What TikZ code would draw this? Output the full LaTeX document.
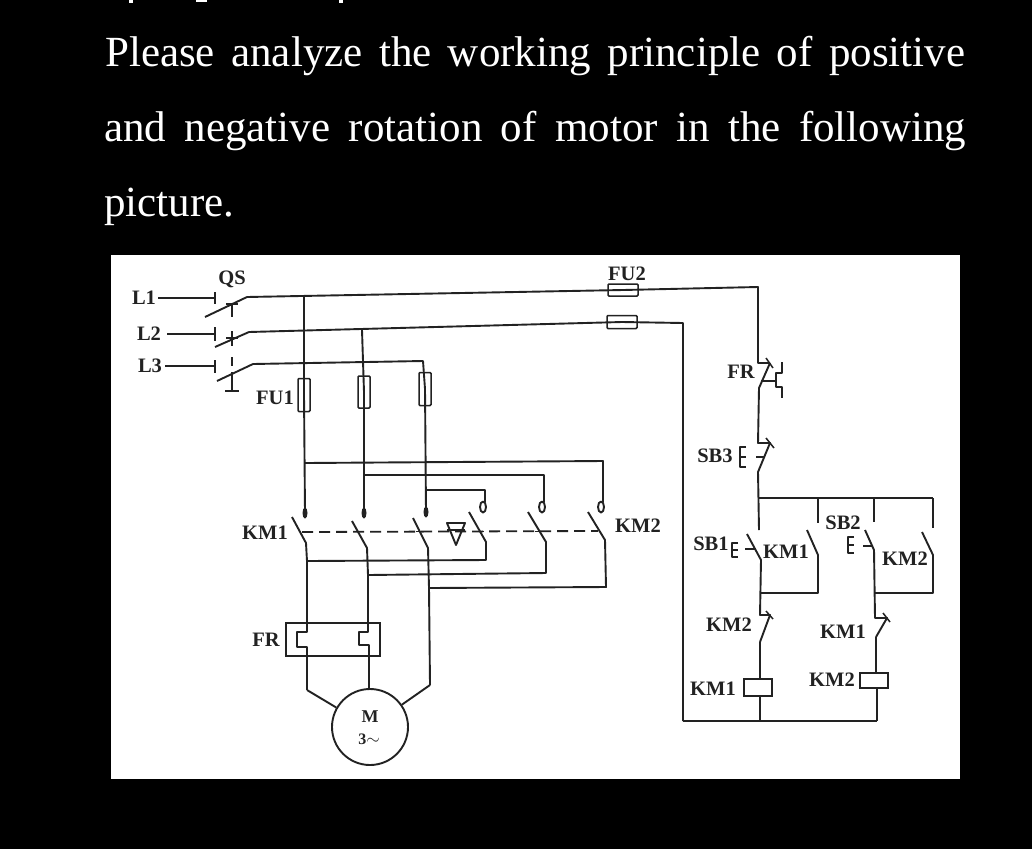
\documentclass[tikz,border=0pt]{standalone}
\usepackage{fontspec}
\setmainfont{Liberation Serif}
\definecolor{ink}{HTML}{222222}
\tikzset{
    wire/.style={draw=ink, line width=1.9pt, line join=round},
    thin wire/.style={draw=ink, line width=1.5pt, line join=round},
    link/.style={draw=ink, line width=1.8pt, dash pattern=on 11pt off 6pt},
    lbl/.style={text=ink, inner sep=0pt, font=\fontsize{20.5}{20.5}\selectfont\bfseries},
    fuse/.style={draw=ink, line width=1.5pt, rectangle, inner sep=0pt, rounded corners=1pt},
    coil/.style={draw=ink, line width=1.9pt, rectangle, inner sep=0pt, minimum width=28pt},
    para/.style={anchor=base west, inner sep=0pt, text=white, font=\fontsize{43}{43}\selectfont}
}
\begin{document}
\begin{tikzpicture}[x=1pt, y=-1pt]
    \useasboundingbox (0,0) rectangle (1032,849);
    \fill[black] (0,0) rectangle (1032,849);
    % clipped text at the top edge
    \fill[white] (129,0) rectangle (133,3);
    \fill[white] (196,0) rectangle (207,1.5);
    \fill[white] (339,0) rectangle (343,3);
    % question text
    \node[para] (line1) at (105,66) {\makebox[860pt][s]{Please analyze the working principle of positive}};
    \node[para] (line2) at (104,141) {\makebox[862pt][s]{and negative rotation of motor in the following}};
    \node[para] (line3) at (104,216) {picture.};
    % sheet
    \fill[white] (111,255) rectangle (960,779);

    % supply and knife switch QS
    \coordinate (L1a) at (158,298);
    \coordinate (L1b) at (215,298);
    \coordinate (L1c) at (205,317);
    \coordinate (L1d) at (247,297);
    \coordinate (L2a) at (167,334);
    \coordinate (L2b) at (215,334);
    \coordinate (L2c) at (215,347);
    \coordinate (L2d) at (249,332);
    \coordinate (L3a) at (165,366);
    \coordinate (L3b) at (215,366);
    \coordinate (L3c) at (217,381);
    \coordinate (L3d) at (253,364);
    \draw[thin wire] (L1a) -- (L1b) (215,292) -- (215,304);
    \draw[thin wire] (L2a) -- (L2b) (215,327) -- (215,341);
    \draw[thin wire] (L3a) -- (L3b) (215,360) -- (215,373);
    \draw[wire] (L1c) -- (L1d);
    \draw[wire] (L2c) -- (L2d);
    \draw[wire] (L3c) -- (L3d);
    \draw[thin wire] (226,304) -- (238,304) (232,304) -- (232,317);
    \draw[thin wire] (232,331) -- (232,346) (226,338) -- (238,338);
    \draw[thin wire] (232,357) -- (232,366);
    \draw[wire] (232,372) -- (232,391) (225,391) -- (239,391);

    % fuses
    \node[fuse, minimum width=12pt, minimum height=33pt] (FUa) at (304,395) {};
    \node[fuse, minimum width=12pt, minimum height=32pt] (FUb) at (364,392) {};
    \node[fuse, minimum width=12pt, minimum height=33pt] (FUc) at (425,389) {};
    \node[fuse, minimum width=30pt, minimum height=12pt] (FUd) at (623,290) {};
    \node[fuse, minimum width=30pt, minimum height=13pt] (FUe) at (622,322) {};

    % main lines
    \coordinate (Pa) at (304,297);
    \coordinate (Pb) at (362,330);
    \coordinate (Pc) at (423,361);
    \draw[wire] (L1d) -- (FUd.center) -- (758,287) -- (758,363) -- (770,363);
    \draw[wire] (L2d) -- (FUe.center) -- (683,323) -- (683,721);
    \draw[wire] (L3d) -- (Pc) -- (FUc.center) -- (426,512);
    \draw[wire] (Pa) -- (FUa.center) -- (305,513);
    \draw[wire] (Pb) -- (FUb.center) -- (364,513);

    % cross connections above KM2
    \draw[wire] (305,463) -- (603,461) -- (603,502);
    \draw[wire] (364,475) -- (544,475) -- (544,502);
    \draw[wire] (427,490) -- (485,490) -- (485,502);
    % contact ends
    \foreach \x/\y in {305/513, 364/513, 426/512} {
        \fill[ink] (\x,\y) ellipse (2.5pt and 5.5pt);
    }
    \foreach \x/\y in {483/507, 542/507, 601/507} {
        \draw[wire] (\x,\y) ellipse (3pt and 5.5pt);
    }

    % main contacts
    \draw[wire] (292,517) -- (306,543) -- (307,561);
    \draw[wire] (352,521) -- (367,548) -- (368,575);
    \draw[wire] (413,518) -- (428,548) -- (429,588);
    \draw[wire] (469,512) -- (486,542) -- (486,560) -- (307,561);
    \draw[wire] (528,512) -- (546,542) -- (546,573) -- (368,575);
    \draw[wire] (588,512) -- (605,540) -- (606,587) -- (429,588);
    \draw[link] (302,532) -- (598,531);
    \foreach \x in {420,480,539} {
        \draw[thin wire] (\x-4,531.5) -- (\x+4,531.5);
    }
    % interlock mark
    \draw[wire] (447,523) -- (465,523) -- (456,545) -- cycle;
    \draw[wire] (447,530) -- (465,530);

    % thermal element FR
    \node[draw=ink, line width=1.9pt, rectangle, inner sep=0pt, minimum width=94pt, minimum height=33pt] (FRbox) at (333,639.5) {};
    \draw[wire] (307,561) -- (307,632) -- (297,632) -- (297,647) -- (307,647) -- (307,690);
    \draw[wire] (368,575) -- (368,632) -- (359,632) -- (359,645) -- (369,645) -- (369,689);
    \draw[wire] (429,588) -- (430,685);

    % motor
    \node[draw=ink, line width=1.9pt, circle, minimum size=76pt, inner sep=0pt] (M) at (370,727) {};
    \node[lbl] (Mtxt) at (370,717) {\fontsize{18}{18}\selectfont M};
    \node[lbl, font=\fontsize{16}{16}\selectfont\bfseries] (Mtype) at (369,739) {3$\sim$};
    \draw[wire] (307,690) -- (M.150);
    \draw[wire] (369,689) -- (M.north);
    \draw[wire] (430,685) -- (M.35);

    % control circuit
    \draw[wire] (770,363) -- (759,388) -- (758,443) -- (770,443) -- (758,472) -- (759,530);
    \draw[thin wire] (766,358) -- (773,368);
    \draw[thin wire] (766,438) -- (774,448);
    \draw[thin wire] (761,381) -- (776,381);
    \draw[thin wire] (782,362) -- (782,373) -- (776,373) -- (776,387) -- (782,387) -- (782,398);
    % SB3
    \draw[thin wire] (746,447) -- (740,447) -- (740,467) -- (746,467) (740,457) -- (746,457) (756,457) -- (765,457);
    % branches
    \draw[wire] (759,498) -- (933,498);
    \draw[wire] (818,498) -- (818,523);
    \draw[wire] (874,498) -- (874,522);
    \draw[wire] (933,498) -- (933,528);
    % SB1 and KM1 hold
    \draw[wire] (747,534) -- (761,560) -- (760,615) -- (770,615) -- (760,642);
    \draw[wire] (807,530) -- (818,555) -- (818,593) -- (761,593);
    \draw[wire] (738,543) -- (732,543) -- (732,557) -- (738,557) (732,550) -- (738,550) (745,549) -- (755,549);
    % SB2 and KM2 hold
    \draw[wire] (865,530) -- (874,550) -- (875,618) -- (887,618) -- (876,637);
    \draw[wire] (922,532) -- (933,555) -- (933,593) -- (875,593);
    \draw[thin wire] (854,537) -- (848,537) -- (848,553) -- (854,553) (848,545) -- (854,545) (863,546) -- (872,546);
    \draw[thin wire] (766,611) -- (773,619);
    \draw[thin wire] (883,613) -- (890,622);
    % coils
    \node[coil, minimum height=17pt] (coilA) at (758,687.5) {};
    \node[coil, minimum height=15pt] (coilB) at (874,680.5) {};
    \draw[wire] (760,642) -- (coilA.north -| 760,0);
    \draw[wire] (876,637) -- (coilB.north -| 876,0);
    \draw[wire] (coilA.south -| 760,0) -- (760,721);
    \draw[wire] (coilB.south -| 877,0) -- (877,721);
    \draw[wire] (683,721) -- (877,721);

    % labels
    \node[lbl] (QS) at (232,279) {QS};
    \node[lbl] (L1) at (144,298) {L1};
    \node[lbl] (L2) at (149,334) {L2};
    \node[lbl] (L3) at (150,366) {L3};
    \node[lbl] (FU1) at (275,398) {FU1};
    \node[lbl] (FU2) at (627,274) {FU2};
    \node[lbl] (KM1m) at (265,533) {KM1};
    \node[lbl] (KM2m) at (638,526) {KM2};
    \node[lbl] (FRm) at (266,640) {FR};
    \node[lbl] (FRc) at (741,372) {FR};
    \node[lbl] (SB3) at (715,456) {SB3};
    \node[lbl] (SB1) at (711,544) {SB1};
    \node[lbl] (SB2) at (843,523) {SB2};
    \node[lbl] (KM1a) at (786,552) {KM1};
    \node[lbl] (KM2a) at (905,559) {KM2};
    \node[lbl] (KM2b) at (729,625) {KM2};
    \node[lbl] (KM1b) at (843,632) {KM1};
    \node[lbl] (KM1c) at (713,689) {KM1};
    \node[lbl] (KM2c) at (832,680) {KM2};
\end{tikzpicture}
\end{document}
